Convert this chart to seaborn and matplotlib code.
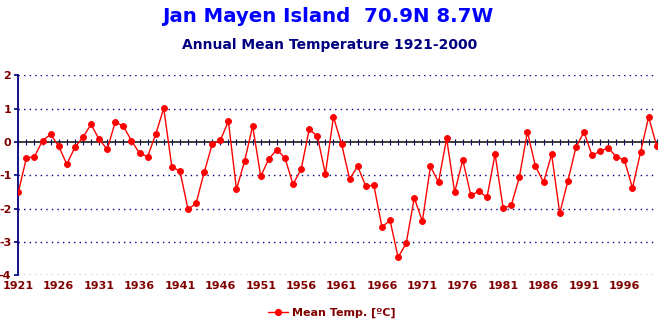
import matplotlib
matplotlib.use("Agg")
import matplotlib.pyplot as plt
import seaborn as sns
import pandas as pd
import numpy as np
from matplotlib.lines import Line2D

years = list(range(1921, 2001))
temps = [
    -1.51, -0.48, -0.44, 0.04, 0.23, -0.13, -0.67, -0.16, 0.14, 0.53,
    0.08, -0.22, 0.60, 0.47, 0.04, -0.34, -0.44, 0.23, 1.01, -0.75,
    -0.87, -2.02, -1.84, -0.91, -0.07, 0.05, 0.62, -1.42, -0.58, 0.48,
    -1.03, -0.51, -0.23, -0.48, -1.27, -0.82, 0.38, 0.18, -0.96, 0.75,
    -0.06, -1.11, -0.73, -1.33, -1.30, -2.55, -2.35, -3.46, -3.04, -1.68,
    -2.38, -0.73, -1.21, 0.11, -1.51, -0.54, -1.60, -1.48, -1.66, -0.36,
    -1.99, -1.90, -1.06, 0.30, -0.73, -1.21, -0.37, -2.14, -1.18, -0.16,
    0.30, -0.40, -0.28, -0.17, -0.45, -0.54, -1.38, -0.31, 0.75, -0.12,
]
xtick_years = list(range(1921, 2000, 5))
ytick_vals = [-4, -3, -2, -1, 0, 1, 2]

title = "Jan Mayen Island  70.9N 8.7W"
subtitle = "Annual Mean Temperature 1921-2000"
legend_label = "Mean Temp. [ºC]"

navy = "#000080"
maroon = "#800000"

sns.set_theme(style="white")
plt.rcParams["font.family"] = ["DejaVu Sans"]

fig = plt.figure(figsize=(6.64, 3.26), dpi=100)
ax = fig.add_axes([18.3 / 664, 1 - 275.3 / 326, (656.7 - 18.3) / 664, 200 / 326])

df = pd.DataFrame({"year": years, "temp": temps})
sns.lineplot(data=df, x="year", y="temp", ax=ax, color="red", linewidth=1.0,
             marker="o", markersize=4.2, markeredgecolor="red", zorder=5)

ax.set_xlim(1921, 2000)
ax.set_ylim(-4, 2)
ax.set_xlabel("")
ax.set_ylabel("")

# grid
for v in ytick_vals:
    if v != 0:
        ax.axhline(v, color=navy, linestyle=(0, (1, 3)), linewidth=1.0, zorder=1)

for s in ["top", "right", "bottom"]:
    ax.spines[s].set_visible(False)
ax.spines["left"].set_color(navy)
ax.spines["left"].set_linewidth(1.3)

ax.set_yticks(ytick_vals)
ax.set_yticklabels([str(v) for v in ytick_vals])
ax.tick_params(axis="y", direction="out", length=3, width=1.2, color=navy,
               labelcolor=maroon, labelsize=8, pad=2, left=True)
for lbl in ax.get_yticklabels():
    lbl.set_fontweight("bold")

ax.set_xticks(xtick_years)
ax.set_xticklabels([str(y) for y in xtick_years])
ax.tick_params(axis="x", length=0, labelcolor=maroon, labelsize=8, pad=4)
for lbl in ax.get_xticklabels():
    lbl.set_fontweight("bold")

# zero line with yearly ticks
sec = ax.secondary_xaxis(4 / 6)
sec.spines["bottom"].set_color(navy)
sec.spines["bottom"].set_linewidth(1.5)
sec.set_xticks(years)
sec.tick_params(axis="x", direction="inout", length=4, width=0.8, color=navy,
                labelbottom=False, labeltop=False)
sec.set_xticklabels([])

fig.text(0.494, 1 - 16 / 326, title, ha="center", va="center", color="#0000FF",
         fontsize=14.2, fontweight="bold")
fig.text(0.497, 1 - 45 / 326, subtitle, ha="center", va="center", color=navy,
         fontsize=10, fontweight="bold")

handle = Line2D([], [], color="red", linewidth=1.0, marker="o", markersize=4.2)
leg = fig.legend([handle], [legend_label], loc="center", bbox_to_anchor=(0.5, 1 - 313 / 326),
                 frameon=False, fontsize=8, handlelength=1.8, handletextpad=0.4)
for t in leg.get_texts():
    t.set_color(maroon)
    t.set_fontweight("bold")

fig.savefig("out.png", dpi=100)
